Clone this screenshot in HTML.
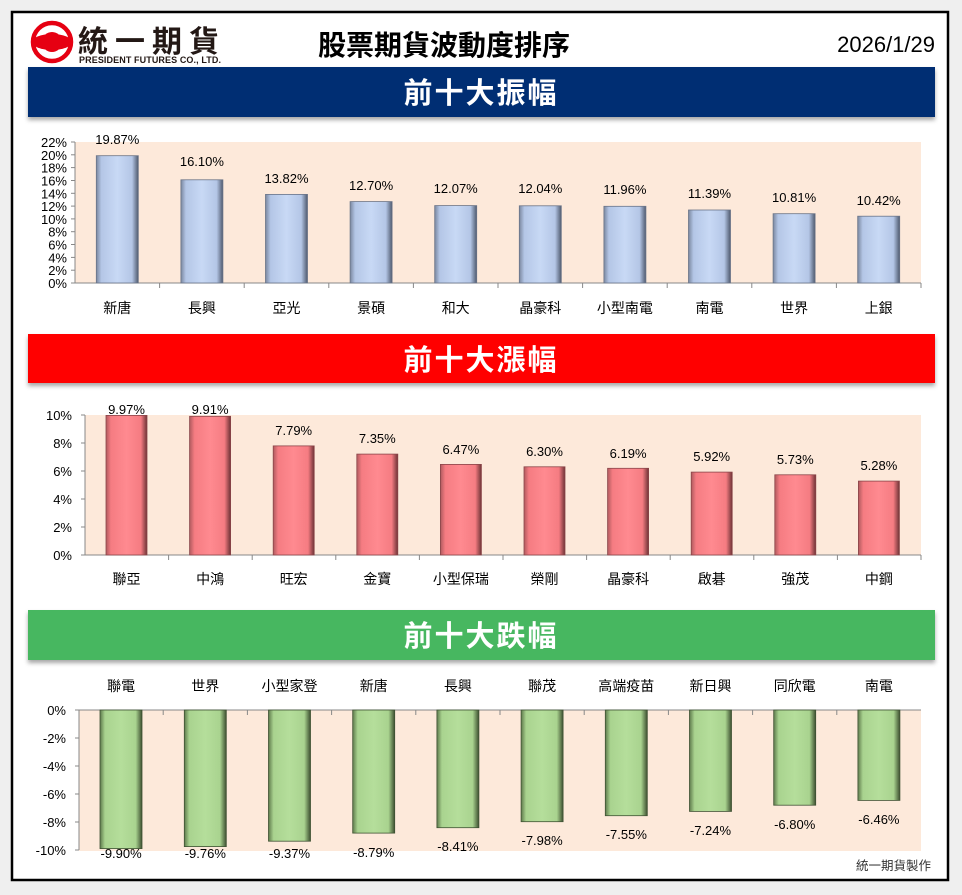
<!DOCTYPE html>
<html><head><meta charset="utf-8"><style>
html,body{margin:0;padding:0;background:#efefef;}
svg{display:block;font-family:"Liberation Sans","Noto Sans CJK TC",sans-serif;}
</style></head><body>
<svg width="962" height="895" viewBox="0 0 962 895" xmlns="http://www.w3.org/2000/svg">
<defs>
<linearGradient id="gb" x1="0" x2="1" y1="0" y2="0"><stop offset="0" stop-color="#7a879f"/><stop offset="0.12" stop-color="#b4c6e6"/><stop offset="0.5" stop-color="#c8d9f5"/><stop offset="0.85" stop-color="#b4c6e6"/><stop offset="1" stop-color="#4f5a6e"/></linearGradient>
<linearGradient id="gr" x1="0" x2="1" y1="0" y2="0"><stop offset="0" stop-color="#b05a5e"/><stop offset="0.12" stop-color="#f57c82"/><stop offset="0.5" stop-color="#ff8a90"/><stop offset="0.85" stop-color="#f57c82"/><stop offset="1" stop-color="#6e3336"/></linearGradient>
<linearGradient id="gg" x1="0" x2="1" y1="0" y2="0"><stop offset="0" stop-color="#5e7a4c"/><stop offset="0.12" stop-color="#a9d38f"/><stop offset="0.5" stop-color="#b5de9b"/><stop offset="0.85" stop-color="#a9d38f"/><stop offset="1" stop-color="#3d4f30"/></linearGradient>
<filter id="sh" x="-5%" y="-20%" width="110%" height="150%"><feDropShadow dx="0" dy="3" stdDeviation="2" flood-color="#000" flood-opacity="0.35"/></filter>
</defs>
<rect x="12" y="12" width="936" height="868" fill="#fff" stroke="#000" stroke-width="2.5"/>
<!-- logo -->
<circle cx="52" cy="42" r="19" fill="none" stroke="#e60012" stroke-width="4.5"/>
<ellipse cx="52" cy="42" rx="20" ry="8" fill="#e60012"/>
<circle cx="52" cy="42" r="10" fill="#e60012"/>
<text x="78" y="52" font-size="30" font-weight="bold" fill="#231815" letter-spacing="7">統一期貨</text>
<text x="79" y="63" font-size="9" font-weight="bold" fill="#231815" textLength="142">PRESIDENT FUTURES CO., LTD.</text>
<text x="444" y="55" font-size="28" text-anchor="middle" fill="#000" font-weight="bold">股票期貨波動度排序</text>
<text x="935" y="52" font-size="22" text-anchor="end" fill="#000">2026/1/29</text>
<!-- banners -->
<rect x="28" y="67" width="907" height="50" fill="#002d73" filter="url(#sh)"/>
<text x="481" y="103" font-size="29" font-weight="bold" fill="#fff" text-anchor="middle" letter-spacing="2">前十大振幅</text>
<rect x="28" y="334" width="907" height="49" fill="#ff0000" filter="url(#sh)"/>
<text x="481" y="370" font-size="29" font-weight="bold" fill="#fff" text-anchor="middle" letter-spacing="2">前十大漲幅</text>
<rect x="28" y="610" width="907" height="50" fill="#47b760" filter="url(#sh)"/>
<text x="481" y="646" font-size="29" font-weight="bold" fill="#fff" text-anchor="middle" letter-spacing="2">前十大跌幅</text>

<!-- chart 1 -->
<rect x="75" y="142" width="846" height="141" fill="#fde9da"/>
<g stroke="#888" stroke-width="1">
<line x1="75" y1="142" x2="75" y2="283"/><line x1="75" y1="283" x2="921" y2="283"/>
<line x1="71" y1="142" x2="75" y2="142"/><line x1="71" y1="154.8" x2="75" y2="154.8"/><line x1="71" y1="167.6" x2="75" y2="167.6"/><line x1="71" y1="180.5" x2="75" y2="180.5"/><line x1="71" y1="193.3" x2="75" y2="193.3"/><line x1="71" y1="206.1" x2="75" y2="206.1"/><line x1="71" y1="218.9" x2="75" y2="218.9"/><line x1="71" y1="231.7" x2="75" y2="231.7"/><line x1="71" y1="244.5" x2="75" y2="244.5"/><line x1="71" y1="257.4" x2="75" y2="257.4"/><line x1="71" y1="270.2" x2="75" y2="270.2"/><line x1="71" y1="283" x2="75" y2="283"/>
<line x1="159.6" y1="283" x2="159.6" y2="288"/><line x1="244.2" y1="283" x2="244.2" y2="288"/><line x1="328.8" y1="283" x2="328.8" y2="288"/><line x1="413.4" y1="283" x2="413.4" y2="288"/><line x1="498" y1="283" x2="498" y2="288"/><line x1="582.6" y1="283" x2="582.6" y2="288"/><line x1="667.2" y1="283" x2="667.2" y2="288"/><line x1="751.8" y1="283" x2="751.8" y2="288"/><line x1="836.4" y1="283" x2="836.4" y2="288"/><line x1="921" y1="283" x2="921" y2="288"/>
</g>
<g font-size="13" fill="#000" text-anchor="end">
<text x="67" y="147">22%</text><text x="67" y="159.8">20%</text><text x="67" y="172.6">18%</text><text x="67" y="185.5">16%</text><text x="67" y="198.3">14%</text><text x="67" y="211.1">12%</text><text x="67" y="223.9">10%</text><text x="67" y="236.7">8%</text><text x="67" y="249.5">6%</text><text x="67" y="262.4">4%</text><text x="67" y="275.2">2%</text><text x="67" y="288">0%</text>
</g>
<g fill="url(#gb)" stroke="#6a7488" stroke-width="0.8">
<rect x="96.3" y="155.7" width="42" height="127.3"/><rect x="180.9" y="179.8" width="42" height="103.2"/><rect x="265.5" y="194.4" width="42" height="88.6"/><rect x="350.1" y="201.6" width="42" height="81.4"/><rect x="434.7" y="205.6" width="42" height="77.4"/><rect x="519.3" y="205.8" width="42" height="77.2"/><rect x="603.9" y="206.3" width="42" height="76.7"/><rect x="688.5" y="210" width="42" height="73"/><rect x="773.1" y="213.7" width="42" height="69.3"/><rect x="857.7" y="216.2" width="42" height="66.8"/>
</g>
<g font-size="13" fill="#000" text-anchor="middle">
<text x="117.3" y="144">19.87%</text><text x="201.9" y="166">16.10%</text><text x="286.5" y="183">13.82%</text><text x="371.1" y="190">12.70%</text><text x="455.7" y="193">12.07%</text><text x="540.3" y="193">12.04%</text><text x="624.9" y="194">11.96%</text><text x="709.5" y="198">11.39%</text><text x="794.1" y="202">10.81%</text><text x="878.7" y="205">10.42%</text>
</g>
<g font-size="14" fill="#000" text-anchor="middle">
<text x="117.3" y="313">新唐</text><text x="201.9" y="313">長興</text><text x="286.5" y="313">亞光</text><text x="371.1" y="313">景碩</text><text x="455.7" y="313">和大</text><text x="540.3" y="313">晶豪科</text><text x="624.9" y="313">小型南電</text><text x="709.5" y="313">南電</text><text x="794.1" y="313">世界</text><text x="878.7" y="313">上銀</text>
</g>

<!-- chart 2 -->
<rect x="85" y="415" width="836" height="140" fill="#fde9da"/>
<g stroke="#888" stroke-width="1">
<line x1="85" y1="415" x2="85" y2="555"/><line x1="85" y1="555" x2="921" y2="555"/>
<line x1="81" y1="415" x2="85" y2="415"/><line x1="81" y1="443" x2="85" y2="443"/><line x1="81" y1="471" x2="85" y2="471"/><line x1="81" y1="499" x2="85" y2="499"/><line x1="81" y1="527" x2="85" y2="527"/><line x1="81" y1="555" x2="85" y2="555"/>
<line x1="168.6" y1="555" x2="168.6" y2="560"/><line x1="252.2" y1="555" x2="252.2" y2="560"/><line x1="335.8" y1="555" x2="335.8" y2="560"/><line x1="419.4" y1="555" x2="419.4" y2="560"/><line x1="503" y1="555" x2="503" y2="560"/><line x1="586.6" y1="555" x2="586.6" y2="560"/><line x1="670.2" y1="555" x2="670.2" y2="560"/><line x1="753.8" y1="555" x2="753.8" y2="560"/><line x1="837.4" y1="555" x2="837.4" y2="560"/><line x1="921" y1="555" x2="921" y2="560"/>
</g>
<g font-size="13" fill="#000" text-anchor="end">
<text x="72" y="420">10%</text><text x="72" y="448">8%</text><text x="72" y="476">6%</text><text x="72" y="504">4%</text><text x="72" y="532">2%</text><text x="72" y="560">0%</text>
</g>
<g fill="url(#gr)" stroke="#8a4549" stroke-width="0.8">
<rect x="106" y="415.4" width="41" height="139.6"/><rect x="189.6" y="416.3" width="41" height="138.7"/><rect x="273.2" y="445.9" width="41" height="109.1"/><rect x="356.8" y="454.1" width="41" height="100.9"/><rect x="440.4" y="464.4" width="41" height="90.6"/><rect x="524" y="466.8" width="41" height="88.2"/><rect x="607.6" y="468.3" width="41" height="86.7"/><rect x="691.2" y="472.1" width="41" height="82.9"/><rect x="774.8" y="474.8" width="41" height="80.2"/><rect x="858.4" y="481.1" width="41" height="73.9"/>
</g>
<g font-size="13" fill="#000" text-anchor="middle">
<text x="126.5" y="414">9.97%</text><text x="210.1" y="414">9.91%</text><text x="293.7" y="435">7.79%</text><text x="377.3" y="443">7.35%</text><text x="460.9" y="454">6.47%</text><text x="544.5" y="456">6.30%</text><text x="628.1" y="458">6.19%</text><text x="711.7" y="461">5.92%</text><text x="795.3" y="464">5.73%</text><text x="878.9" y="470">5.28%</text>
</g>
<g font-size="14" fill="#000" text-anchor="middle">
<text x="126.5" y="584">聯亞</text><text x="210.1" y="584">中鴻</text><text x="293.7" y="584">旺宏</text><text x="377.3" y="584">金寶</text><text x="460.9" y="584">小型保瑞</text><text x="544.5" y="584">榮剛</text><text x="628.1" y="584">晶豪科</text><text x="711.7" y="584">啟碁</text><text x="795.3" y="584">強茂</text><text x="878.9" y="584">中鋼</text>
</g>

<!-- chart 3 -->
<rect x="79" y="710" width="842" height="141" fill="#fde9da"/>
<g stroke="#888" stroke-width="1">
<line x1="79" y1="710" x2="79" y2="850"/><line x1="79" y1="710" x2="921" y2="710"/>
<line x1="75" y1="710" x2="79" y2="710"/><line x1="75" y1="738" x2="79" y2="738"/><line x1="75" y1="766" x2="79" y2="766"/><line x1="75" y1="794" x2="79" y2="794"/><line x1="75" y1="822" x2="79" y2="822"/><line x1="75" y1="850" x2="79" y2="850"/>
<line x1="163.2" y1="710" x2="163.2" y2="715"/><line x1="247.4" y1="710" x2="247.4" y2="715"/><line x1="331.6" y1="710" x2="331.6" y2="715"/><line x1="415.8" y1="710" x2="415.8" y2="715"/><line x1="500" y1="710" x2="500" y2="715"/><line x1="584.2" y1="710" x2="584.2" y2="715"/><line x1="668.4" y1="710" x2="668.4" y2="715"/><line x1="752.6" y1="710" x2="752.6" y2="715"/><line x1="836.8" y1="710" x2="836.8" y2="715"/>
</g>
<g font-size="13" fill="#000" text-anchor="end">
<text x="66" y="715">0%</text><text x="66" y="743">-2%</text><text x="66" y="771">-4%</text><text x="66" y="799">-6%</text><text x="66" y="827">-8%</text><text x="66" y="855">-10%</text>
</g>
<g fill="url(#gg)" stroke="#3f5233" stroke-width="0.8">
<rect x="100" y="710" width="42" height="138.6"/><rect x="184.3" y="710" width="42" height="136.6"/><rect x="268.5" y="710" width="42" height="131.2"/><rect x="352.7" y="710" width="42" height="123.1"/><rect x="436.9" y="710" width="42" height="117.7"/><rect x="521.1" y="710" width="42" height="111.7"/><rect x="605.3" y="710" width="42" height="105.7"/><rect x="689.5" y="710" width="42" height="101.4"/><rect x="773.7" y="710" width="42" height="95.2"/><rect x="857.9" y="710" width="42" height="90.4"/>
</g>
<g font-size="13" fill="#000" text-anchor="middle">
<text x="121.1" y="858">-9.90%</text><text x="205.3" y="858">-9.76%</text><text x="289.5" y="858">-9.37%</text><text x="373.7" y="857">-8.79%</text><text x="457.9" y="851">-8.41%</text><text x="542.1" y="845">-7.98%</text><text x="626.3" y="839">-7.55%</text><text x="710.5" y="835">-7.24%</text><text x="794.7" y="829">-6.80%</text><text x="878.9" y="824">-6.46%</text>
</g>
<g font-size="14" fill="#000" text-anchor="middle">
<text x="121.1" y="691">聯電</text><text x="205.3" y="691">世界</text><text x="289.5" y="691">小型家登</text><text x="373.7" y="691">新唐</text><text x="457.9" y="691">長興</text><text x="542.1" y="691">聯茂</text><text x="626.3" y="691">高端疫苗</text><text x="710.5" y="691">新日興</text><text x="794.7" y="691">同欣電</text><text x="878.9" y="691">南電</text>
</g>
<text x="931" y="870" font-size="12.5" fill="#333" text-anchor="end">統一期貨製作</text>
</svg>
</body></html>
